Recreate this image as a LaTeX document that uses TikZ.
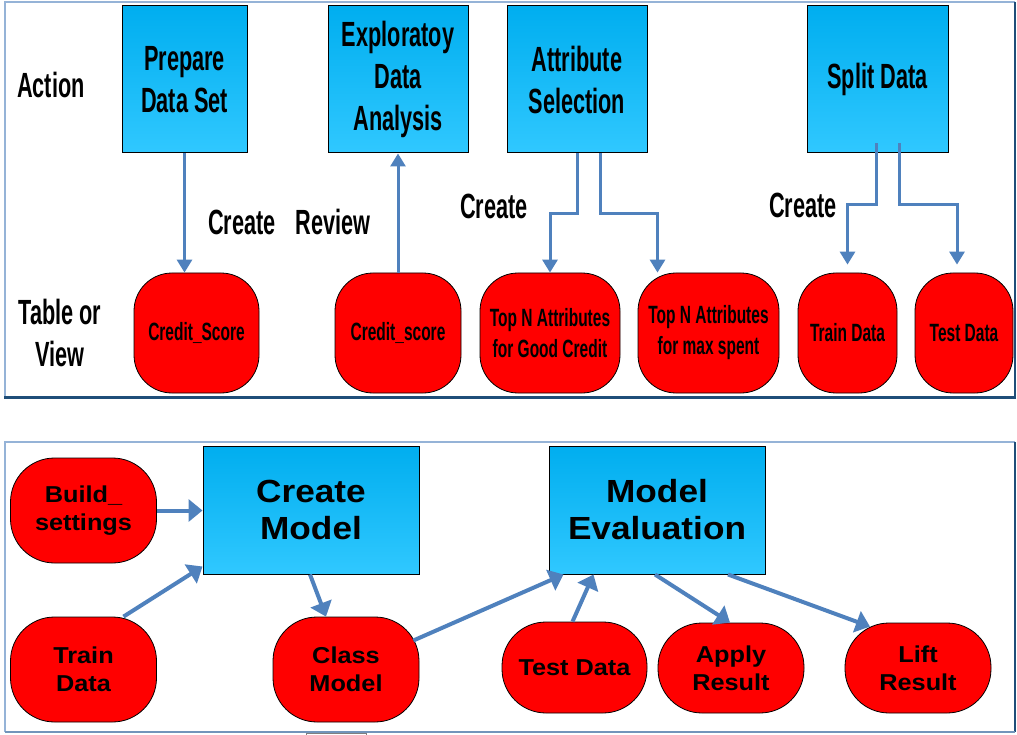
\documentclass[tikz,border=0pt]{standalone}
\usepackage{fontspec}
\setmainfont{Liberation Sans}
\newfontfamily\condensed[FakeStretch=0.62]{Liberation Sans}
\newfontfamily\widened[FakeStretch=1.1]{Liberation Sans}
\usetikzlibrary{arrows.meta,calc}

\definecolor{arrowblue}{RGB}{79,129,189}
\definecolor{boxtop}{RGB}{0,174,239}
\definecolor{boxbot}{RGB}{48,200,255}
\definecolor{framelight}{RGB}{149,179,215}
\definecolor{framedark}{RGB}{31,78,121}

\begin{document}
\begin{tikzpicture}[x=1pt,y=-1pt,
  action/.style={draw=black,line width=1pt,top color=boxtop,bottom color=boxbot,
    inner sep=0pt,align=center},
  store/.style={draw=black,line width=0.8pt,fill=red,inner sep=0pt,align=center},
  topstore/.style={store,rounded corners=38pt,minimum height=120pt,
    font=\condensed\bfseries\fontsize{25}{31}\selectfont},
  botstore/.style={store,rounded corners=44pt,minimum width=146pt,
    font=\widened\bfseries\fontsize{23}{28}\selectfont},
  topaction/.style={action,minimum height=147pt,
    font=\condensed\bfseries\fontsize{35}{42}\selectfont},
  botaction/.style={action,minimum width=216pt,minimum height=128pt,
    font=\widened\bfseries\fontsize{32}{37}\selectfont},
  caption/.style={inner sep=0pt,align=center,
    font=\condensed\bfseries\fontsize{35}{42}\selectfont},
  toparrow/.style={draw=arrowblue,line width=3pt,line join=miter,
    -{Triangle[length=13pt,width=15pt]}},
  botarrow/.style={draw=arrowblue,line width=4pt,
    -{Triangle[length=14pt,width=22pt]}}
]
\useasboundingbox (0,0) rectangle (1017,735);
\clip (0,0) rectangle (1017,735);

% ---------- upper panel frame ----------
\draw[framelight,line width=1.5pt] (5,397) -- (5,2) -- (1015,2);
\draw[framedark,line width=2pt] (1015,2) -- (1015,397);
\draw[framedark,line width=3pt] (4,397) -- (1016,397);

% ---------- lower panel frame ----------
\draw[framelight,line width=1.5pt] (5,732) -- (5,442) -- (1015,442);
\draw[framedark,line width=2pt] (1015,442) -- (1015,732);
\draw[framelight!70!framedark,line width=1.5pt] (5,732) -- (1015,732);
\draw[gray,line width=1pt] (306,733) rectangle (366,750);

% ---------- row captions ----------
\node[caption] (lblaction) at (51,85) {Action};
\node[caption] (lbltable) at (60,333) {Table or\\View};
\node[caption] (lblcreateA) at (242,222) {Create};
\node[caption] (lblreview) at (333,222) {Review};
\node[caption] (lblcreateB) at (494,206) {Create};
\node[caption] (lblcreateC) at (803,205) {Create};

% ---------- actions ----------
\node[topaction,minimum width=125pt] (prep) at (184.5,79.5) {Prepare\\Data Set};
\node[topaction,minimum width=140pt] (eda) at (398,79.5) {Exploratoy\\Data\\Analysis};
\node[topaction,minimum width=140pt] (attr) at (577,79.5) {Attribute\\Selection};
\node[topaction,minimum width=141pt] (split) at (877.5,79.5) {Split Data};

% ---------- tables / views ----------
\node[topstore,minimum width=125pt] (cs1) at (196.5,333) {Credit\_Score};
\node[topstore,minimum width=126pt] (cs2) at (398,333) {Credit\_score};
\node[topstore,minimum width=140pt] (gc) at (550,333) {Top N Attributes\\for Good Credit};
\node[topstore,minimum width=141pt] (ms) at (708.5,333) {Top N Attributes\\for max spent};
\node[topstore,minimum width=99pt] (train1) at (847.5,333) {Train Data};
\node[topstore,minimum width=98pt] (test1) at (964,333) {Test Data};

% ---------- upper connectors ----------
\draw[toparrow] (prep.south) -- (prep.south |- cs1.north);
\draw[toparrow] (cs2.north) -- (eda.south);
\draw[toparrow] (attr.south) |- ($(gc.north)+(0,-59)$) -- (gc.north);
\draw[toparrow] ([xshift=23pt]attr.south) |- ($(ms.north)+(-51,-59)$)
  -- ([xshift=-51pt]ms.north);
\draw[toparrow] ([xshift=-1.5pt,yshift=10pt]split.south)
  |- ($(train1.north)+(0,-68)$) -- ($(train1.north)+(0,-8)$);
\draw[toparrow] ([xshift=21.5pt,yshift=10pt]split.south)
  |- ($(test1.north)+(-7,-68)$) -- ($(test1.north)+(-7,-8)$);

% ---------- lower panel nodes ----------
\node[botaction] (create) at (311,510) {Create\\Model};
\node[botaction] (eval) at (657,510) {Model\\Evaluation};
\node[botstore,minimum height=105pt] (build) at (83.5,510.5) {Build\_\\settings};
\node[botstore,minimum height=105pt] (train2) at (83.5,669.5) {Train\\Data};
\node[botstore,minimum height=105pt] (class) at (346,669.5) {Class\\Model};
\node[botstore,minimum width=145pt,minimum height=91pt] (test2) at (574.5,667.5) {Test Data};
\node[botstore,minimum height=90pt] (apply) at (731,668) {Apply\\Result};
\node[botstore,minimum height=90pt] (lift) at (918,668) {Lift\\Result};

% ---------- lower connectors ----------
\draw[botarrow] (build.east) -- (create.west |- build.east);
\draw[botarrow] ([xshift=40pt]train2.north) -- ([yshift=8pt]create.south west);
\draw[botarrow] ([xshift=-1pt]create.south) -- ([xshift=-20pt]class.north);
\draw[botarrow] ($(class.east)+(-6,-29)$) -- ([xshift=15pt]eval.south west);
\draw[botarrow] ([xshift=-2pt]test2.north) -- ([xshift=45pt]eval.south west);
\draw[botarrow] ([xshift=-2pt]eval.south) -- ([xshift=-1pt]apply.north);
\draw[botarrow] ([xshift=71pt]eval.south) -- ([xshift=-48pt,yshift=-4pt]lift.north);
\end{tikzpicture}
\end{document}
